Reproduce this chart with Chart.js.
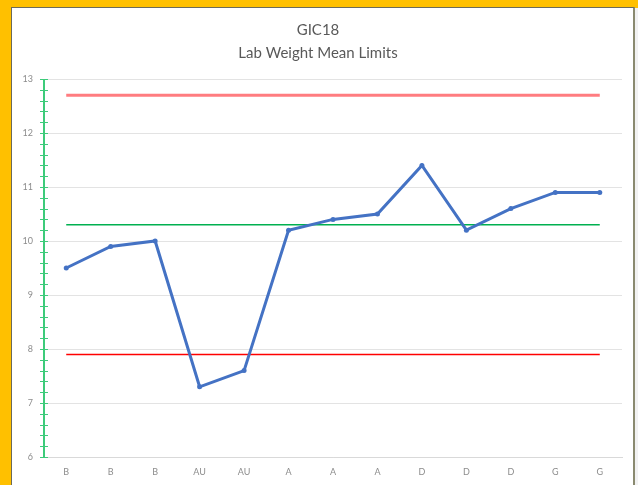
<!DOCTYPE html>
<html>
<head>
<meta charset="utf-8">
<script src="https://cdn.jsdelivr.net/npm/chart.js@4"></script>
<style>
  html, body { margin: 0; padding: 0; width: 638px; height: 485px; overflow: hidden; background: #FFC000; }
  #frame { position: absolute; left: 11px; top: 7px; width: 621px; height: 485px; background: #ffffff;
           border-left: 1px solid #6b6b5a; border-top: 1px solid #6b6b5a; border-right: 2px solid #8a8a70; }
  #rightstrip { position: absolute; left: 635px; top: 8px; width: 3px; height: 477px; background: #f2f2f2; }
  #wrap { position: absolute; left: 0; top: 0; width: 638px; height: 485px; }
</style>
</head>
<body>
<div id="frame"></div>
<div id="rightstrip"></div>
<div id="wrap"><canvas id="c" width="638" height="485"></canvas></div>
<script>
const categories = ["B", "B", "B", "AU", "AU", "A", "A", "A", "D", "D", "D", "G", "G"];
const labWeightMean = [9.5, 9.9, 10.0, 7.3, 7.6, 10.2, 10.4, 10.5, 11.4, 10.2, 10.6, 10.9, 10.9];
const upperLimit = [12.7, 12.7, 12.7, 12.7, 12.7, 12.7, 12.7, 12.7, 12.7, 12.7, 12.7, 12.7, 12.7];
const targetLine = [10.3, 10.3, 10.3, 10.3, 10.3, 10.3, 10.3, 10.3, 10.3, 10.3, 10.3, 10.3, 10.3];
const lowerLimit = [7.9, 7.9, 7.9, 7.9, 7.9, 7.9, 7.9, 7.9, 7.9, 7.9, 7.9, 7.9, 7.9];
const yMin = 6, yMax = 13, yStep = 1, yMinorStep = 0.2;
const titleLines = ["GIC18", "Lab Weight Mean Limits"];

const axisGreen = '#3DCB7A';

const minorTicks = {
  id: 'minorTicks',
  afterDraw(chart) {
    const y = chart.scales.y;
    const ctx = chart.ctx;
    const x0 = chart.chartArea.left;
    ctx.save();
    ctx.strokeStyle = axisGreen;
    ctx.lineWidth = 1;
    const n = Math.round((yMax - yMin) / yMinorStep);
    for (let i = 0; i <= n; i++) {
      const v = yMin + i * yMinorStep;
      const py = Math.round(y.getPixelForValue(v)) + 0.5;
      ctx.beginPath();
      ctx.moveTo(x0 - 4, py);
      ctx.lineTo(x0 + 4, py);
      ctx.stroke();
    }
    ctx.lineWidth = 2;
    ctx.beginPath();
    ctx.moveTo(x0, y.getPixelForValue(yMax));
    ctx.lineTo(x0, y.getPixelForValue(yMin));
    ctx.stroke();
    ctx.restore();
  }
};

new Chart(document.getElementById('c'), {
  type: 'line',
  data: {
    labels: categories,
    datasets: [
      { label: 'Upper', data: upperLimit, borderColor: '#FF7C80', borderWidth: 3, pointRadius: 0, fill: false, order: 3 },
      { label: 'Target', data: targetLine, borderColor: '#00B050', borderWidth: 1.5, pointRadius: 0, fill: false, order: 2 },
      { label: 'Lower', data: lowerLimit, borderColor: '#FF0000', borderWidth: 1.5, pointRadius: 0, fill: false, order: 1 },
      { label: 'Lab Weight Mean', data: labWeightMean, borderColor: '#4472C4', backgroundColor: '#4472C4',
        borderWidth: 3, pointRadius: 2.5, pointBorderWidth: 0, pointBackgroundColor: '#4472C4', fill: false, tension: 0, order: 0 }
    ]
  },
  options: {
    responsive: false,
    animation: false,
    devicePixelRatio: 1,
    layout: { padding: { left: 14, right: 16, top: 8, bottom: 3 } },
    plugins: {
      legend: { display: false },
      tooltip: { enabled: false },
      title: {
        display: true,
        text: titleLines,
        color: '#595959',
        font: { family: 'Lato', size: 15, weight: 'normal', lineHeight: 1.5 },
        padding: { top: 11, bottom: 15 }
      }
    },
    scales: {
      x: {
        offset: true,
        grid: { display: false, drawTicks: false },
        border: { display: true, color: '#d9d9d9', width: 1 },
        ticks: { color: '#8c8c8c', font: { family: 'Lato', size: 9 }, padding: 10, autoSkip: false, maxRotation: 0 },
        afterFit(scale) { scale.height = 25; }
      },
      y: {
        min: yMin, max: yMax,
        grid: { color: '#e3e3e3', drawTicks: false, lineWidth: 1 },
        border: { display: false },
        ticks: { stepSize: yStep, color: '#8c8c8c', font: { family: 'Lato', size: 9 }, padding: 11 },
        afterFit(scale) { scale.width = 30; }
      }
    }
  },
  plugins: [minorTicks]
});
</script>
</body>
</html>
